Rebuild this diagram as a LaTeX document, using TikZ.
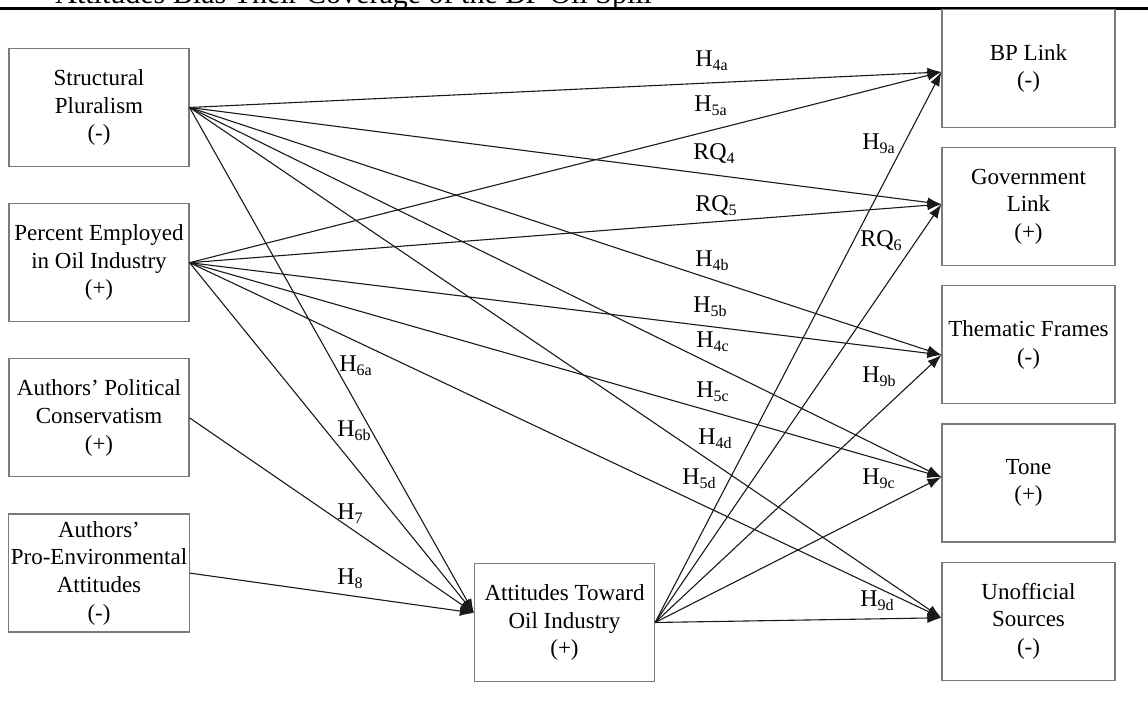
\documentclass[tikz,border=0pt]{standalone}
\usepackage{fontspec}
\setmainfont{Liberation Serif}
\usepackage{tikz}
\usetikzlibrary{arrows.meta,positioning}
\definecolor{boxgray}{HTML}{7A7A7A}
\definecolor{bk90}{HTML}{1A1A1A}
\tikzset{
  varbox/.style={
    rectangle, draw=boxgray, line width=0.6pt, fill=white,
    minimum width=#1, minimum height=59pt,
    font=\fontsize{11.5}{13.8}\selectfont, align=center,
    inner sep=1pt
  },
  varbox/.default=90pt,
  patharrow/.style={
    -{Latex[length=7pt,width=5pt]}, line width=0.55pt, color=bk90
  },
  pathlabel/.style={
    anchor=base west, inner sep=0pt,
    font=\fontsize{12}{14}\selectfont
  },
}

\begin{document}
\begin{tikzpicture}[x=0.5pt, y=-0.5pt, node distance=18pt]
  \useasboundingbox (0,0) rectangle (1148,704);
  \fill[white] (0,0) rectangle (1148,704);

  % caption, cut off at the top edge
  \begin{scope}
    \clip (0,0) rectangle (1148,704);
    \node[anchor=base west, inner sep=0pt, font=\fontsize{15}{18}\selectfont]
      (caption) at (55,4) {Attitudes Bias Their Coverage of the BP Oil Spill};
  \end{scope}
  \draw[line width=1.5pt] (0,9) -- (1148,9);

  % predictors
  \node[varbox] (sp) at (99,107.5) {Structural\\Pluralism\\(-)};
  \node[varbox, below=of sp] (pe) {Percent Employed\\in Oil Industry\\(+)};
  \node[varbox, below=of pe] (apc) {Authors’ Political\\Conservatism\\(+)};
  \node[varbox, below=of apc] (ape) {Authors’\\Pro-Environmental\\Attitudes\\(-)};

  % mediator
  \node[varbox] (att) at (564.5,622.5) {Attitudes Toward\\Oil Industry\\(+)};

  % outcomes
  \begin{scope}[node distance=9.5pt]
    \node[varbox=86.5pt] (bp) at (1028.5,68.5) {BP Link\\(-)};
    \node[varbox=86.5pt, below=of bp] (gov) {Government\\Link\\(+)};
    \node[varbox=86.5pt, below=of gov] (tf) {Thematic Frames\\(-)};
    \node[varbox=86.5pt, below=of tf] (tone) {Tone\\(+)};
    \node[varbox=86.5pt, below=of tone] (uo) {Unofficial\\Sources\\(-)};
  \end{scope}

  % paths from structural pluralism
  \draw[patharrow] (sp.east) -- ([yshift=-1.75pt]bp.west);
  \draw[patharrow] (sp.east) -- ([yshift=1.25pt]gov.west);
  \draw[patharrow] (sp.east) -- ([yshift=-5pt]tf.west);
  \draw[patharrow] (sp.east) -- ([yshift=3pt]tone.west);
  \draw[patharrow] (sp.east) -- ([yshift=1.75pt]uo.west);
  \draw[patharrow] (sp.east) -- ([yshift=4.75pt]att.west);

  % paths from percent employed
  \draw[patharrow] (pe.east) -- ([yshift=-1.75pt]bp.west);
  \draw[patharrow] (pe.east) -- ([yshift=1.25pt]gov.west);
  \draw[patharrow] (pe.east) -- ([yshift=-5pt]tf.west);
  \draw[patharrow] (pe.east) -- ([yshift=3pt]tone.west);
  \draw[patharrow] (pe.east) -- ([yshift=1.75pt]uo.west);
  \draw[patharrow] (pe.east) -- ([yshift=4.75pt]att.west);

  % authors' attitudes
  \draw[patharrow] (apc.east) -- ([yshift=4.75pt]att.west);
  \draw[patharrow] (ape.east) -- ([yshift=4.75pt]att.west);

  % paths from the mediator
  \draw[patharrow] (att.east) -- ([yshift=-1.75pt]bp.west);
  \draw[patharrow] (att.east) -- ([yshift=1.25pt]gov.west);
  \draw[patharrow] (att.east) -- ([yshift=-5pt]tf.west);
  \draw[patharrow] (att.east) -- ([yshift=3pt]tone.west);
  \draw[patharrow] (att.east) -- ([yshift=1.75pt]uo.west);

  % path labels
  \node[pathlabel] (h4a) at (695,67) {H\textsubscript{4a}};
  \node[pathlabel] (h5a) at (694,112) {H\textsubscript{5a}};
  \node[pathlabel] (rq4) at (693,160) {RQ\textsubscript{4}};
  \node[pathlabel] (rq5) at (695,212) {RQ\textsubscript{5}};
  \node[pathlabel] (h4b) at (695,267) {H\textsubscript{4b}};
  \node[pathlabel] (h5b) at (693,313) {H\textsubscript{5b}};
  \node[pathlabel] (h4c) at (696,348) {H\textsubscript{4c}};
  \node[pathlabel] (h5c) at (696,398) {H\textsubscript{5c}};
  \node[pathlabel] (h4d) at (698,445) {H\textsubscript{4d}};
  \node[pathlabel] (h5d) at (682,485) {H\textsubscript{5d}};
  \node[pathlabel] (h9a) at (862,150) {H\textsubscript{9a}};
  \node[pathlabel] (rq6) at (860,247) {RQ\textsubscript{6}};
  \node[pathlabel] (h9b) at (862,383) {H\textsubscript{9b}};
  \node[pathlabel] (h9c) at (862,485) {H\textsubscript{9c}};
  \node[pathlabel] (h9d) at (860,607) {H\textsubscript{9d}};
  \node[pathlabel] (h6a) at (339,372) {H\textsubscript{6a}};
  \node[pathlabel] (h6b) at (337,437) {H\textsubscript{6b}};
  \node[pathlabel] (h7) at (337,520) {H\textsubscript{7}};
  \node[pathlabel] (h8) at (337,585) {H\textsubscript{8}};
\end{tikzpicture}
\end{document}
